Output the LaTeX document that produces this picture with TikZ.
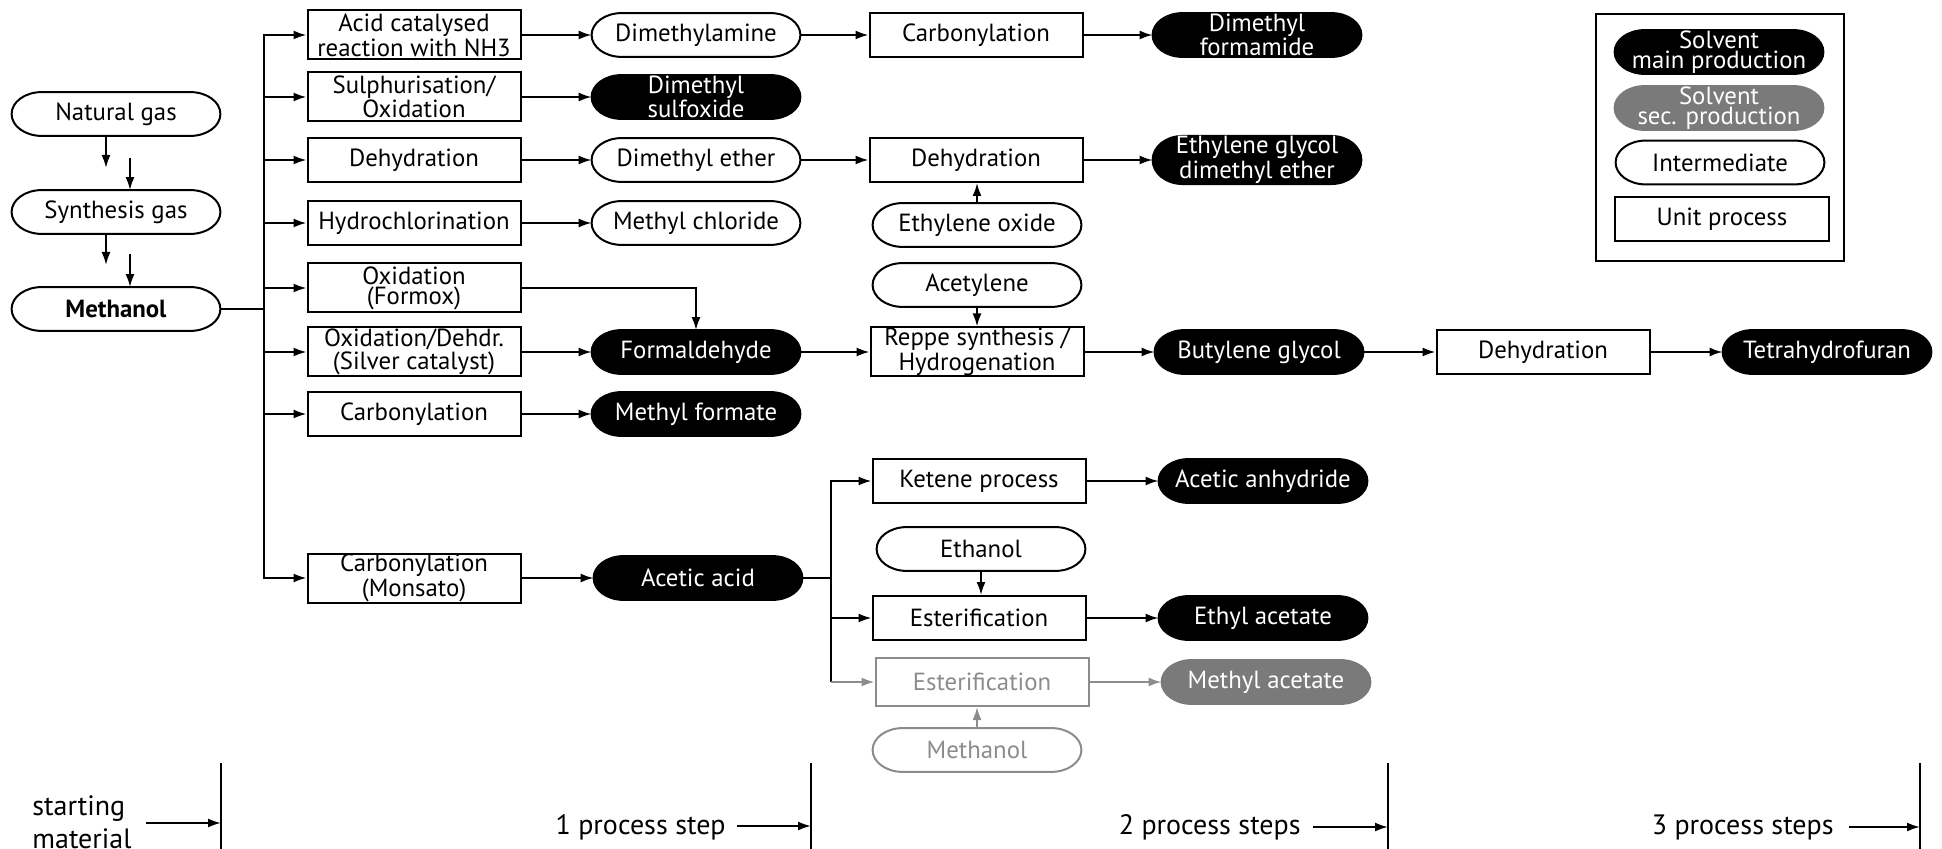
\documentclass[tikz,border=0pt]{standalone}
\usepackage{fontspec}
\setmainfont{PT Sans}
\usetikzlibrary{arrows.meta,calc}
\definecolor{secgray}{HTML}{7A7A7A}
\definecolor{linegray}{HTML}{8C8C8C}
\pgfdeclarelayer{background}
\pgfsetlayers{background,main}

% capsule outline with elliptical ends drawn round a named node
\newcommand\capsule[3]{%
  \path[draw=#3, fill=#2, line width=1pt]
    let \p1=(#1.north east), \p2=(#1.south west), \n1={(\y1-\y2)/2} in
    (\x2+15pt,\y1) -- (\x1-15pt,\y1)
    arc[start angle=90, end angle=-90, x radius=15pt, y radius=\n1]
    -- (\x2+15pt,\y2)
    arc[start angle=270, end angle=90, x radius=15pt, y radius=\n1] -- cycle;}

\begin{document}
\begin{tikzpicture}[x=0.5pt,y=-0.5pt,
  every node/.style={font=\fontsize{12.4}{10}\selectfont, inner sep=0pt, align=center},
  proc/.style={draw, rectangle, line width=1pt, minimum width=106.5pt, minimum height=22pt},
  proctwo/.style={proc, minimum height=24.5pt},
  inter/.style={rectangle, minimum width=104pt, minimum height=21.5pt},
  mainsol/.style={inter, text=white},
  secsol/.style={inter, text=white},
  greyproc/.style={proc, draw=linegray, text=linegray},
  greyinter/.style={inter, text=linegray},
  conn/.style={line width=1pt},
  arr/.style={line width=1pt, -{Latex[length=6.5pt,width=4.5pt]}},
  garr/.style={arr, draw=linegray},
  bot/.style={font=\fontsize{14}{16}\selectfont}]

\useasboundingbox (0,0) rectangle (1942,849);

% feedstock chain
\node[inter] (ng) at (116,114) {Natural gas};
\node[inter] (sg) at (116,212) {Synthesis gas};
\node[inter, font=\fontsize{12.4}{10}\selectfont\bfseries] (me) at (116,309) {Methanol};

% first process step
\node[proctwo] (p1) at (414,35)  {Acid catalysed\\reaction with NH3};
\node[proctwo] (p2) at (414,97)  {Sulphurisation/\\Oxidation};
\node[proc]    (p3) at (414,160) {Dehydration};
\node[proc]    (p4) at (414,223) {Hydrochlorination};
\node[proctwo] (p5) at (414,288) {Oxidation\\(Formox)};
\node[proctwo] (p6) at (414,352) {Oxidation/Dehdr.\\(Silver catalyst)};
\node[proc]    (p7) at (414,414) {Carbonylation};
\node[proctwo] (p8) at (414,578) {Carbonylation\\(Monsato)};

% first products
\node[inter]   (c1) at (696,35)  {Dimethylamine};
\node[mainsol] (c2) at (696,97)  {Dimethyl\\sulfoxide};
\node[inter]   (c3) at (696,160) {Dimethyl ether};
\node[inter]   (c4) at (696,223) {Methyl chloride};
\node[mainsol] (c6) at (696,352) {Formaldehyde};
\node[mainsol] (c7) at (696,414) {Methyl formate};
\node[mainsol] (c8) at (698,578) {Acetic acid};

% second process step
\node[proc]     (d1) at (976,35)  {Carbonylation};
\node[proc]     (d3) at (976,160) {Dehydration};
\node[inter]    (d4) at (977,225) {Ethylene oxide};
\node[inter]    (d5) at (977,285) {Acetylene};
\node[proctwo]  (d6) at (977,352) {Reppe synthesis /\\Hydrogenation};
\node[proc]     (k1) at (979,481) {Ketene process};
\node[inter]    (k2) at (981,549) {Ethanol};
\node[proc]     (k3) at (979,618) {Esterification};
\node[greyproc, minimum height=24pt] (k4) at (982,682) {Esterification};
\node[greyinter] (k5) at (977,750) {Methanol};

% second products
\node[mainsol] (e1) at (1257,35)  {Dimethyl\\formamide};
\node[mainsol] (e3) at (1257,160) {Ethylene glycol\\dimethyl ether};
\node[mainsol] (e6) at (1259,352) {Butylene glycol};
\node[mainsol] (f1) at (1263,481) {Acetic anhydride};
\node[mainsol] (f3) at (1263,618) {Ethyl acetate};
\node[secsol]  (f4) at (1266,682) {Methyl acetate};

% third process step
\node[proc]    (g6) at (1543,352) {Dehydration};
\node[mainsol] (h6) at (1827,352) {Tetrahydrofuran};

% legend
\node[draw, line width=1pt, minimum width=124pt, minimum height=123.5pt] (leg) at (1720,137.5) {};
\node[mainsol] (lm) at (1719,52)    {Solvent\\main production};
\node[secsol]  (ls) at (1719,108)   {Solvent\\sec. production};
\node[inter]   (li) at (1720,162.5) {Intermediate};
\node[proc, minimum width=107pt] (lu) at (1722,219.5) {Unit process};

% capsule outlines behind the texts
\begin{pgfonlayer}{background}
  \foreach \nm in {ng,sg,me,c1,c3,c4,d4,d5,k2,li}
    {\capsule{\nm}{white}{black}}
  \foreach \nm in {c2,c6,c7,c8,e1,e3,e6,f1,f3,h6,lm}
    {\capsule{\nm}{black}{black}}
  \foreach \nm in {f4,ls}
    {\capsule{\nm}{secgray}{secgray}}
  \capsule{k5}{white}{linegray}
\end{pgfonlayer}

% feedstock arrows
\coordinate (ar1) at (106,168);
\coordinate (ar2) at (130,158);
\coordinate (ar3) at (106,265);
\coordinate (ar4) at (130,254);
\draw[arr] (ng.south -| ar1) -- (ar1);
\draw[arr] (ar2) -- (ar2 |- sg.north);
\draw[arr] (sg.south -| ar3) -- (ar3);
\draw[arr] (ar4) -- (ar4 |- me.north);

% methanol distribution trunk
\coordinate (t1) at (264,309);
\draw[conn] (me.east) -- (t1);
\foreach \nm in {p1,p2,p3,p4,p5,p6,p7,p8}
  \draw[arr] (t1) |- (\nm.west);

% first step to first products
\draw[arr] (p1.east) -- (c1.west);
\draw[arr] (p2.east) -- (c2.west);
\draw[arr] (p3.east) -- (c3.west);
\draw[arr] (p4.east) -- (c4.west);
\draw[arr] (p5.east) -| (c6.north);
\draw[arr] (p6.east) -- (c6.west);
\draw[arr] (p7.east) -- (c7.west);
\draw[arr] (p8.east) -- (c8.west);

% further routes
\draw[arr] (c1.east) -- (d1.west);
\draw[arr] (d1.east) -- (e1.west);
\draw[arr] (c3.east) -- (d3.west);
\draw[arr] (d3.east) -- (e3.west);
\draw[arr] (d4.north) -- (d4.north |- d3.south);
\draw[arr] (d5.south) -- (d5.south |- d6.north);
\draw[arr] (c6.east) -- (d6.west);
\draw[arr] (d6.east) -- (e6.west);
\draw[arr] (e6.east) -- (g6.west);
\draw[arr] (g6.east) -- (h6.west);

% acetic acid branches
\coordinate (t2) at (831,578);
\draw[conn] (c8.east) -- (t2);
\draw[arr] (t2) |- (k1.west);
\draw[arr] (t2) |- (k3.west);
\draw[conn] (t2) -- (t2 |- k4.west);
\draw[garr] (t2 |- k4.west) -- (k4.west);
\draw[arr] (k1.east) -- (f1.west);
\draw[arr] (k2.south) -- (k2.south |- k3.north);
\draw[arr] (k3.east) -- (f3.west);
\draw[garr] (k4.east) -- (f4.west);
\draw[garr] (k5.north) -- (k5.north |- k4.south);

% process step scale
\coordinate (v0) at (221,763);
\coordinate (v1) at (811,763);
\coordinate (v2) at (1388,763);
\coordinate (v3) at (1920,763);
\foreach \v in {v0,v1,v2,v3}
  \draw[conn] (\v) -- ++(0,90);

\node[bot, anchor=base west] (st) at (32,815) {starting};
\node[bot, anchor=base west] (mt) at (32,848) {material};
\node[bot, anchor=base east] (l1) at (726,834)  {1 process step};
\node[bot, anchor=base east] (l2) at (1301,834) {2 process steps};
\node[bot, anchor=base east] (l3) at (1834,834) {3 process steps};

\coordinate (s0) at (146,823);
\coordinate (s1) at (737,826);
\coordinate (s2) at (1313,827);
\coordinate (s3) at (1849,827);
\draw[arr] (s0) -- (s0 -| v0);
\draw[arr] (s1) -- (s1 -| v1);
\draw[arr] (s2) -- (s2 -| v2);
\draw[arr] (s3) -- (s3 -| v3);
\end{tikzpicture}
\end{document}
